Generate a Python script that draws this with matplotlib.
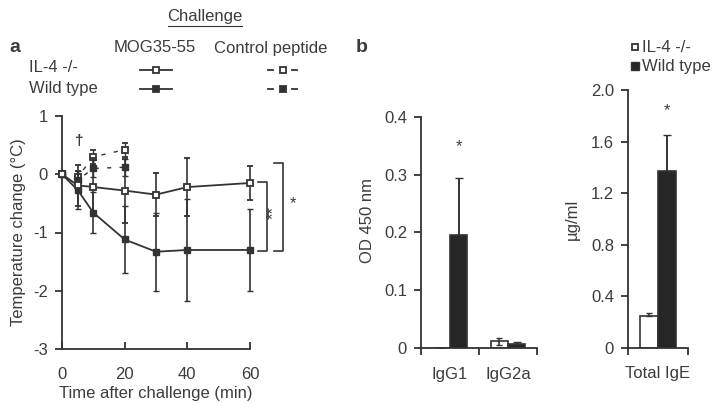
import matplotlib.pyplot as plt
from matplotlib.lines import Line2D

plt.rcParams['font.family'] = ['Liberation Sans', 'DejaVu Sans']
plt.rcParams['font.size'] = 12
ink = '#333333'
txt = '#3c3c3c'
plt.rcParams['text.color'] = txt
plt.rcParams['axes.edgecolor'] = ink
plt.rcParams['axes.labelcolor'] = txt
plt.rcParams['xtick.color'] = ink
plt.rcParams['ytick.color'] = ink
plt.rcParams['xtick.labelcolor'] = txt
plt.rcParams['ytick.labelcolor'] = txt

# panel a: temperature change after challenge
time = [0, 5, 10, 20, 30, 40, 60]
ko_mog = [0, -0.19, -0.22, -0.28, -0.35, -0.22, -0.15]
ko_mog_err = [0, 0.35, 0.5, 0.55, 0.37, 0.5, 0.3]
wt_mog = [0, -0.27, -0.66, -1.12, -1.33, -1.3, -1.3]
wt_mog_err = [0, 0.33, 0.35, 0.57, 0.67, 0.87, 0.7]

time_ctrl = [0, 5, 10, 20]
ko_ctrl = [0, -0.05, 0.3, 0.42]
ko_ctrl_err = [0, 0.1, 0.12, 0.12]
wt_ctrl = [0, -0.1, 0.1, 0.12]
wt_ctrl_err = [0, 0.1, 0.15, 0.15]

# panel b: antibodies
igg_groups = ['IgG1', 'IgG2a']
igg_ko = [0.0, 0.012]
igg_ko_err = [0.0, 0.006]
igg_wt = [0.195, 0.007]
igg_wt_err = [0.1, 0.003]

ige_groups = ['Total IgE']
ige_ko = [0.25]
ige_ko_err = [0.025]
ige_wt = [1.37]
ige_wt_err = [0.28]

W, H = 713, 403
fig = plt.figure(figsize=(W / 100, H / 100), dpi=100)


def fx(px):
    return px / W


def fy(py):
    return 1 - py / H


# ---- panel a ----
ax = fig.add_axes([fx(62), fy(349), fx(250) - fx(62), fy(116) - fy(349)])
ms = 5
ax.errorbar(time_ctrl, ko_ctrl, yerr=ko_ctrl_err, color=ink, lw=1, ls=(0, (3, 6)),
            marker='s', ms=ms, mfc='white', mec=ink, mew=1.3, capsize=2, clip_on=False, zorder=3)
ax.errorbar(time_ctrl, wt_ctrl, yerr=wt_ctrl_err, color=ink, lw=1, ls=(0, (3, 6)),
            marker='s', ms=ms, mfc=ink, mec=ink, capsize=2, clip_on=False, zorder=3)
ax.errorbar(time, wt_mog, yerr=wt_mog_err, color=ink, lw=1.3, marker='s', ms=ms,
            mfc=ink, mec=ink, capsize=2.5, elinewidth=1.2, clip_on=False, zorder=4)
ax.errorbar(time, ko_mog, yerr=ko_mog_err, color=ink, lw=1.3, marker='s', ms=ms,
            mfc='white', mec=ink, mew=1.3, capsize=2.5, elinewidth=1.2, clip_on=False, zorder=5)

ax.set_xlim(0, 60)
ax.set_ylim(-3, 1)
ax.set_xticks([0, 20, 40, 60])
ax.set_yticks([-3, -2, -1, 0, 1])
ax.set_yticklabels(['-3', '-2', '-1', '0', '1'])
ax.spines['top'].set_visible(False)
ax.spines['right'].set_visible(False)
ax.spines['left'].set_linewidth(1.3)
ax.spines['bottom'].set_linewidth(1.3)
ax.tick_params(axis='y', direction='out', length=5, width=1.3, pad=5)
ax.tick_params(axis='x', direction='in', length=5, width=1.3, pad=13)
ax.set_xlabel('Time after challenge (min)', labelpad=3)
ax.set_ylabel('Temperature change (°C)', labelpad=5)

ax.text(5.4, 0.57, '†', ha='center', va='center', fontsize=11, fontweight='bold')
# significance brackets
ax.plot([62.6, 65.4, 65.4, 62.6], [-0.14, -0.14, -1.31, -1.31], color=ink, lw=1.2, clip_on=False)
ax.plot([67.7, 70.5, 70.5, 67.7], [0.2, 0.2, -1.31, -1.31], color=ink, lw=1.2, clip_on=False)
ax.text(67.3, -0.65, '**', rotation=90, ha='center', va='center', fontsize=12)
ax.text(73.6, -0.5, '*', ha='center', va='center', fontsize=12)

# header and legend for panel a
fig.text(fx(15), fy(47), 'a', fontsize=14, fontweight='bold', ha='center', va='center')
fig.text(fx(205), fy(17), 'Challenge', ha='center', va='center')
fig.add_artist(Line2D([fx(168), fx(242)], [fy(26), fy(26)], color=ink, lw=0.8))
fig.text(fx(155), fy(48), 'MOG35-55', ha='center', va='center')
fig.text(fx(271), fy(48), 'Control peptide', ha='center', va='center')
fig.text(fx(29), fy(68), 'IL-4 -/-', ha='left', va='center')
fig.text(fx(29), fy(89), 'Wild type', ha='left', va='center')
for py, fc in [(70, 'white'), (89, ink)]:
    fig.add_artist(Line2D([fx(140), fx(172)], [fy(py), fy(py)], color=ink, lw=1.3))
    fig.add_artist(Line2D([fx(156)], [fy(py)], marker='s', ms=ms, mfc=fc, mec=ink, mew=1.3, ls='none'))
    fig.add_artist(Line2D([fx(268), fx(273)], [fy(py), fy(py)], color=ink, lw=1.3))
    fig.add_artist(Line2D([fx(292), fx(297)], [fy(py), fy(py)], color=ink, lw=1.3))
    fig.add_artist(Line2D([fx(283)], [fy(py)], marker='s', ms=ms, mfc=fc, mec=ink, mew=1.3, ls='none'))

# ---- panel b ----
bw = 0.3
dark = '#262626'
bx = fig.add_axes([fx(421), fy(348), fx(537) - fx(421), fy(117) - fy(348)])
pos = list(range(len(igg_groups)))
bx.bar([p - bw / 2 for p in pos], igg_ko, bw, yerr=igg_ko_err, color='white', edgecolor=ink,
       lw=1.2, error_kw=dict(ecolor=ink, lw=1.2, capsize=2.5), zorder=2)
bx.bar([p + bw / 2 for p in pos], igg_wt, bw, yerr=[[0, 0], igg_wt_err], color=dark, edgecolor=ink,
       lw=1.2, error_kw=dict(ecolor=ink, lw=1.4, capsize=3), zorder=2)
bx.text(pos[0] + bw / 2, 0.348, '*', ha='center', va='center', fontsize=12)
bx.set_xlim(-0.5, 1.5)
bx.set_ylim(0, 0.4)
bx.set_yticks([0, 0.1, 0.2, 0.3, 0.4])
bx.set_yticklabels(['0', '0.1', '0.2', '0.3', '0.4'])
bx.set_xticks(pos)
bx.set_xticklabels(igg_groups)
bx.set_xticks([-0.5, 0.5, 1.5], minor=True)
bx.tick_params(axis='x', which='major', length=0, pad=14)
bx.tick_params(axis='x', which='minor', length=5, width=1.3, direction='out')
bx.tick_params(axis='y', length=5, width=1.3, pad=5)
bx.set_ylabel('OD 450 nm')
bx.yaxis.set_label_coords(-0.40, 0.55)
for s in ['top', 'right']:
    bx.spines[s].set_visible(False)
bx.spines['left'].set_linewidth(1.3)
bx.spines['bottom'].set_linewidth(1.3)

cx = fig.add_axes([fx(628), fy(348), fx(688) - fx(628), fy(90) - fy(348)])
cx.bar([-bw / 2], ige_ko, bw, yerr=[[0], ige_ko_err], color='white', edgecolor=ink,
       lw=1.2, error_kw=dict(ecolor=ink, lw=1.2, capsize=2.5), zorder=2)
cx.bar([bw / 2], ige_wt, bw, yerr=[[0], ige_wt_err], color=dark, edgecolor=ink,
       lw=1.2, error_kw=dict(ecolor=ink, lw=1.4, capsize=3), zorder=2)
cx.text(bw / 2, 1.84, '*', ha='center', va='center', fontsize=12, clip_on=False)
cx.set_xlim(-0.5, 0.5)
cx.set_ylim(0, 2.0)
cx.set_yticks([0, 0.4, 0.8, 1.2, 1.6, 2.0])
cx.set_yticklabels(['0', '0.4', '0.8', '1.2', '1.6', '2.0'])
cx.set_xticks([0])
cx.set_xticklabels(ige_groups)
cx.set_xticks([-0.5, 0.5], minor=True)
cx.tick_params(axis='x', which='major', length=0, pad=13)
cx.tick_params(axis='x', which='minor', length=5, width=1.3, direction='out')
cx.tick_params(axis='y', length=5, width=1.3, pad=5)
cx.set_ylabel('µg/ml', labelpad=8)
for s in ['top', 'right']:
    cx.spines[s].set_visible(False)
cx.spines['left'].set_linewidth(1.3)
cx.spines['bottom'].set_linewidth(1.3)

fig.text(fx(362), fy(47), 'b', fontsize=14, fontweight='bold', ha='center', va='center')
fig.add_artist(Line2D([fx(635)], [fy(47)], marker='s', ms=5, mfc='white', mec=ink, mew=1.3, ls='none'))
fig.add_artist(Line2D([fx(635)], [fy(66)], marker='s', ms=6, mfc=dark, mec=ink, ls='none'))
fig.text(fx(642), fy(47), 'IL-4 -/-', ha='left', va='center')
fig.text(fx(642), fy(66), 'Wild type', ha='left', va='center')

fig.savefig('out.png', dpi=100)
